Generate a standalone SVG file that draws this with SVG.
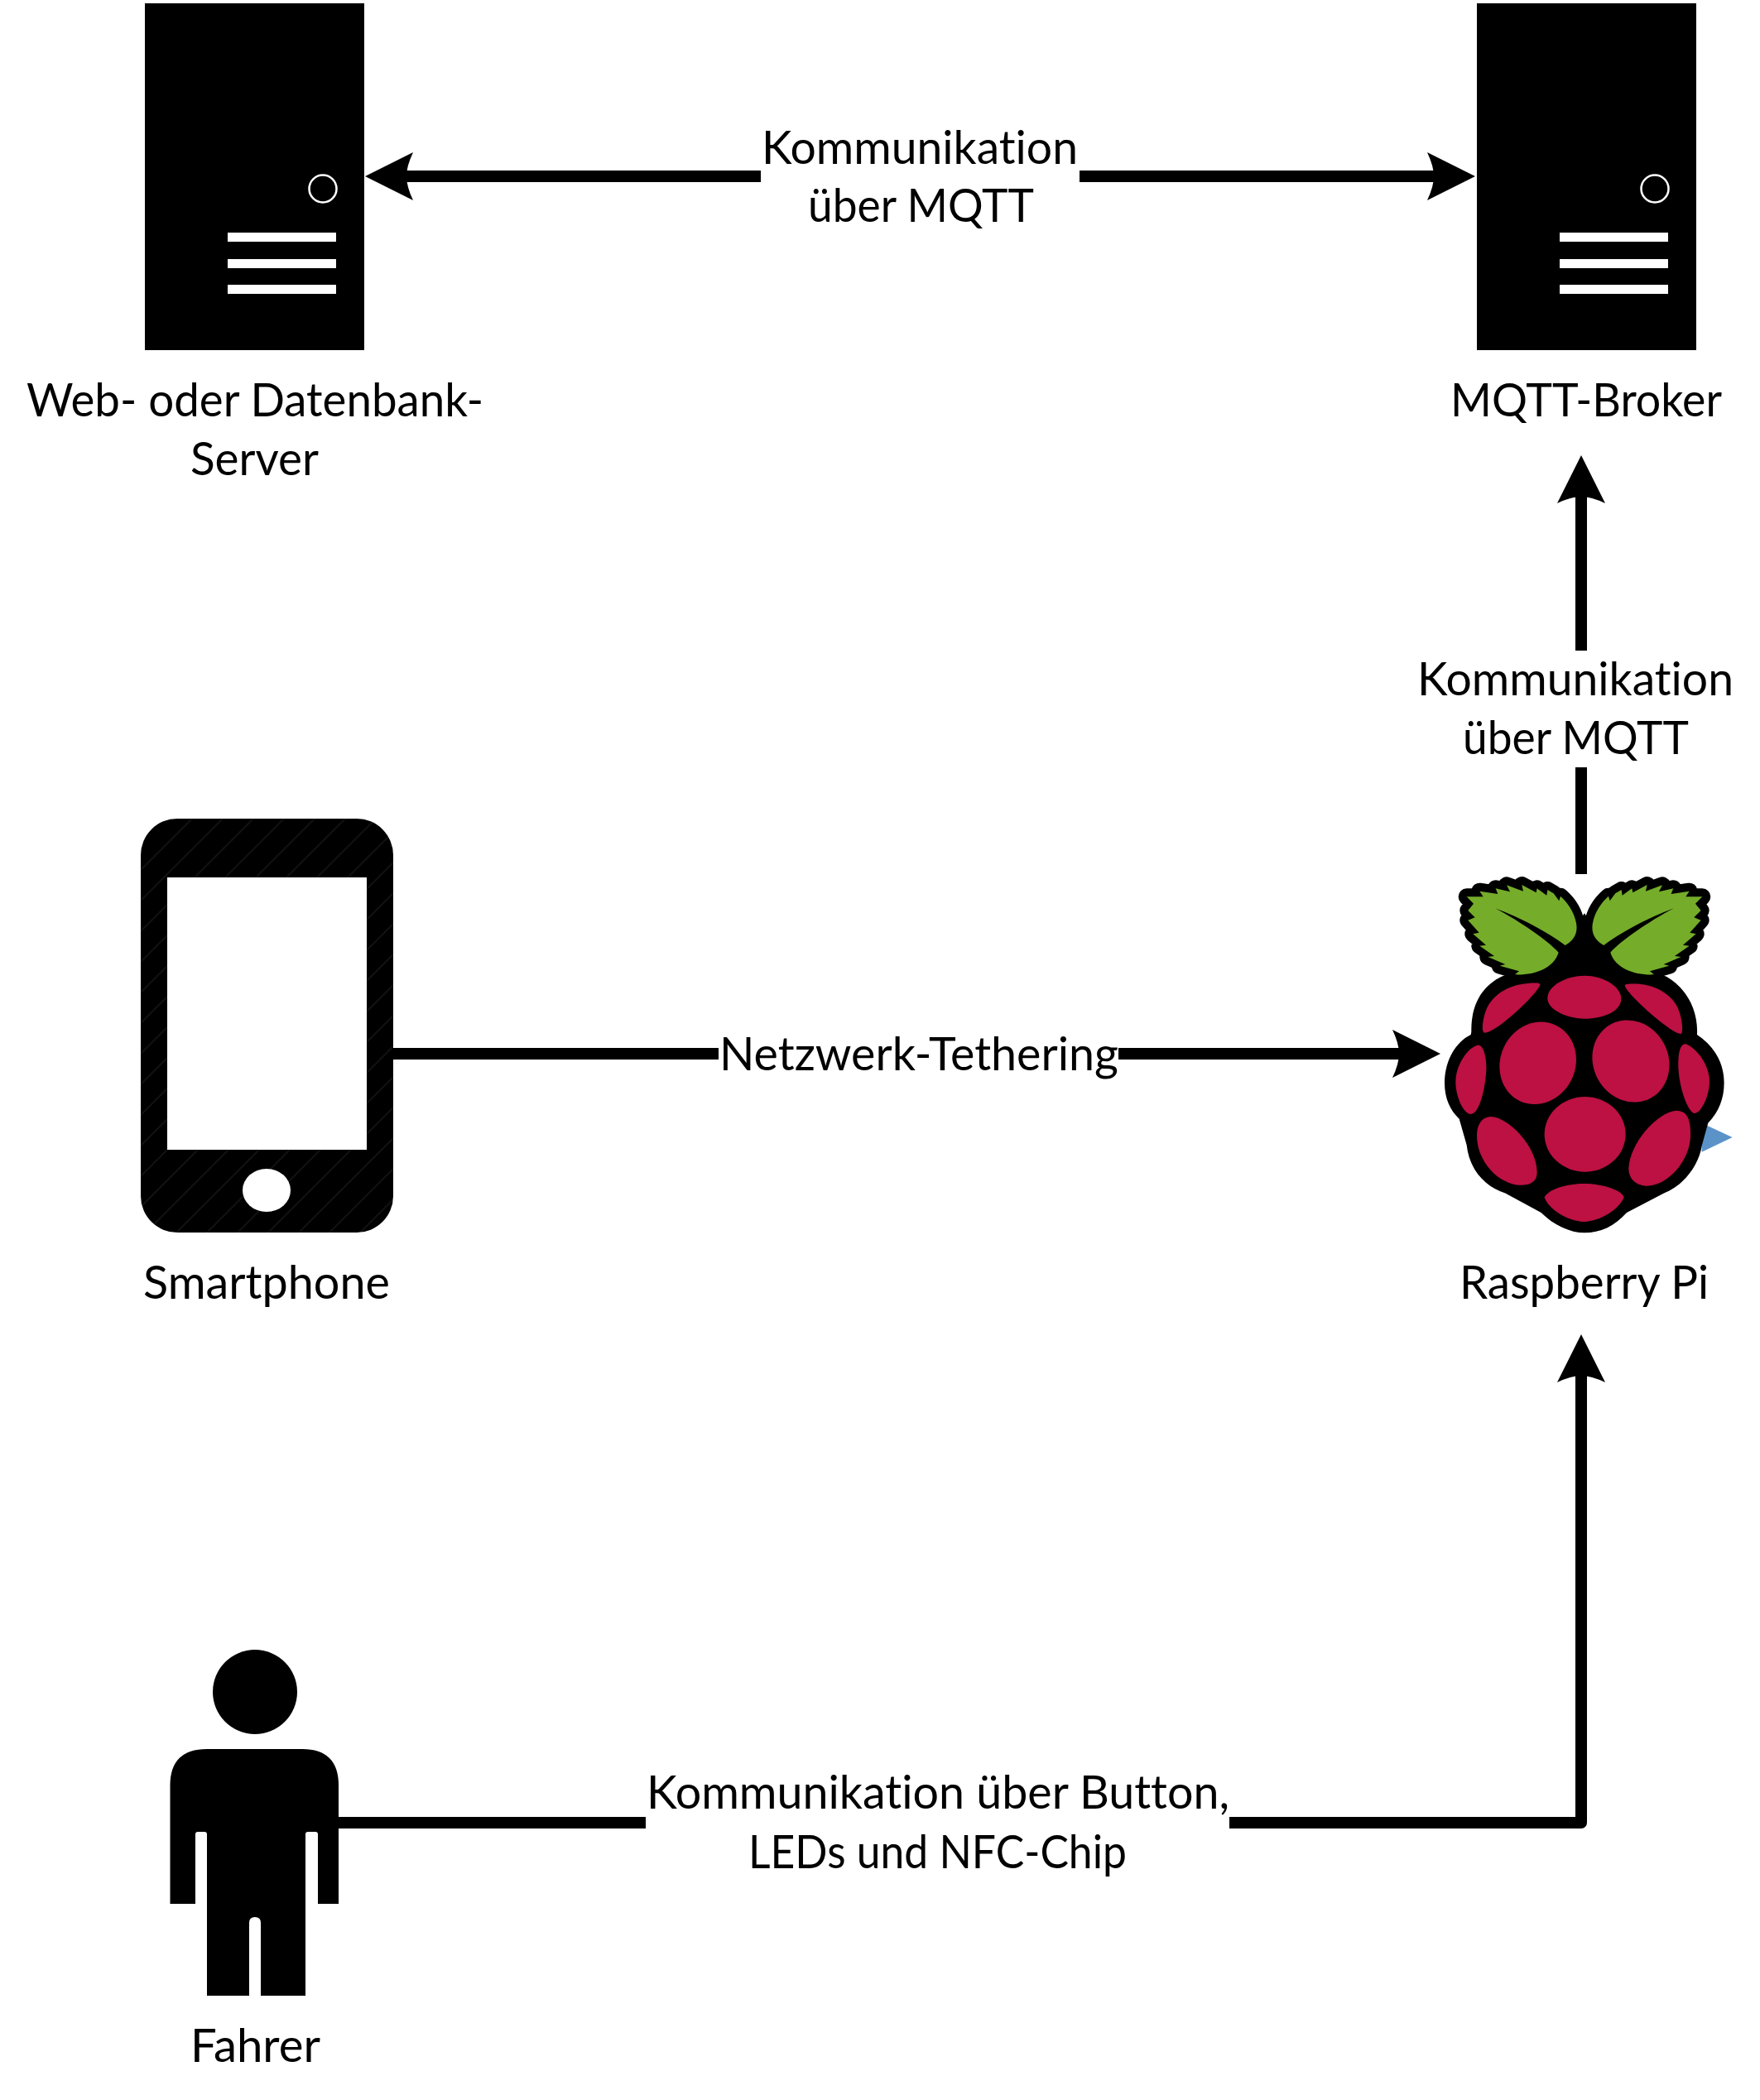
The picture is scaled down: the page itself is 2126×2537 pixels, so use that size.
<svg xmlns="http://www.w3.org/2000/svg" xmlns:xlink="http://www.w3.org/1999/xlink" width="2126" height="2537" viewBox="0 0 2126 2537">
<style>
text{font-family:"Lato","Liberation Sans",sans-serif;font-size:56px;fill:#000;font-variant-ligatures:none}
.line{stroke:#000;stroke-width:14;fill:none;stroke-linejoin:round}
.red{fill:#bc1142}
.leaf{fill:#75ac2a;stroke:#000;stroke-width:60;stroke-linejoin:round;paint-order:stroke}
</style>
<defs>
<path id="head" d="M0,0 L-58,-29 Q-50,-12 -50,0 Q-50,12 -58,29 Z" fill="#000"/>
<pattern id="hatch" width="37" height="37" patternUnits="userSpaceOnUse"><rect width="37" height="37" fill="#000"/><path d="M-5,42 L42,-5 M-5,5 L5,-5 M32,42 L42,32" stroke="#111" stroke-width="2"/></pattern>
<g id="server">
<rect x="175" y="4" width="265" height="419" fill="#000"/>
<circle cx="390" cy="228" r="16.500" fill="none" stroke="#fff" stroke-width="2.500"/>
<rect x="275" y="281" width="131" height="11" fill="#fff"/>
<rect x="275" y="313" width="131" height="11" fill="#fff"/>
<rect x="275" y="344" width="131" height="11" fill="#fff"/>
</g>
<path id="leafshape" class="leaf" d="M632,366 C660,350 680,325 672,285 C665,245 640,210 615,188 L610,205 L590,178 L568,165 L565,185 L530,160 L527,175 L475,147 L480,170 L420,148 L432,172 L380,160 L388,180 L322,170 L335,190 L275,190 L300,215 L280,240 L305,265 L280,275 L320,320 L298,325 L345,365 L322,368 L375,405 L352,408 L415,435 L395,440 L465,460 L450,472 C520,475 590,450 608,392 C570,350 470,280 378,232 C470,265 570,320 632,366 Z"/>
</defs>
<rect width="2126" height="2537" fill="#fff"/>

<g id="connectors">
<path class="line" d="M485,213 H919 M1304,213 H1738"/>
<use xlink:href="#head" href="#head" transform="translate(441,213) rotate(180)"/>
<use xlink:href="#head" href="#head" transform="translate(1782,213)"/>
<path class="line" d="M474,1273 H868 M1351,1273 H1696"/>
<use xlink:href="#head" href="#head" transform="translate(1740,1273)"/>
<path class="line" d="M1910,1056 V927 M1910,786 V594"/>
<use xlink:href="#head" href="#head" transform="translate(1910,550) rotate(-90)"/>
<path class="line" d="M409,2202 H780 M1485,2202 H1910 V1656"/>
<use xlink:href="#head" href="#head" transform="translate(1910,1612) rotate(-90)"/>
<text x="920" y="198" textLength="382" lengthAdjust="spacingAndGlyphs">Kommunikation</text>
<text x="976" y="268" textLength="273" lengthAdjust="spacingAndGlyphs">über MQTT</text>
<text x="1712" y="840" textLength="382" lengthAdjust="spacingAndGlyphs">Kommunikation</text>
<text x="1767" y="911" textLength="273" lengthAdjust="spacingAndGlyphs">über MQTT</text>
<text x="869" y="1293" textLength="482" lengthAdjust="spacingAndGlyphs">Netzwerk-Tethering</text>
<text x="781" y="2185" textLength="704" lengthAdjust="spacingAndGlyphs">Kommunikation über Button,</text>
<text x="904" y="2257" textLength="457" lengthAdjust="spacingAndGlyphs">LEDs und NFC-Chip</text>
</g>

<g id="web-server">
<use xlink:href="#server" href="#server"/>
<text x="32" y="503" textLength="552" lengthAdjust="spacingAndGlyphs">Web- oder Datenbank-</text>
<text x="230" y="574" textLength="155" lengthAdjust="spacingAndGlyphs">Server</text>
</g>

<g id="mqtt-broker">
<use xlink:href="#server" href="#server" transform="translate(1609,0)"/>
<text x="1752" y="503" textLength="328" lengthAdjust="spacingAndGlyphs">MQTT-Broker</text>
</g>

<g id="smartphone">
<rect x="170" y="989" width="305" height="500" rx="44" fill="url(#hatch)"/>
<rect x="202" y="1060" width="241" height="329" fill="#fff"/>
<ellipse cx="322" cy="1438" rx="29" ry="26" fill="#fff"/>
<text x="173" y="1569" textLength="298" lengthAdjust="spacingAndGlyphs">Smartphone</text>
</g>

<g id="raspberry-pi">
<g transform="translate(1680,1020) scale(0.3333)">
<path d="M1127,1010 L1238,1062 L1127,1115 Z" fill="#5b93c9"/>
<path d="M702,250 L600,400 L400,480 C340,510 290,570 292,680 L290,690 C230,720 195,790 195,865 C195,920 215,965 248,995 L275,1090 C285,1180 340,1240 415,1265 L545,1335 C590,1380 650,1408 702,1408 C760,1408 810,1385 855,1335 L990,1265 C1060,1235 1115,1170 1128,1090 L1150,1010 C1190,970 1208,920 1208,865 C1208,790 1170,730 1110,690 C1115,600 1070,520 1000,480 L800,400 Z" fill="#000"/>
<use xlink:href="#leafshape" href="#leafshape"/>
<use xlink:href="#leafshape" href="#leafshape" transform="translate(1404,0) scale(-1,1)"/>
<path class="red" d="M568,558 C568,510 640,476 702,476 C770,476 835,515 835,560 C835,605 770,632 702,632 C640,632 568,600 568,558Z"/>
<path class="red" d="M542,508 C530,545 380,685 340,683 C325,680 335,620 350,590 C385,525 460,500 535,503 Z"/>
<path class="red" d="M848,510 C850,540 1020,690 1052,687 C1062,680 1055,610 1030,575 C990,520 920,500 855,507Z"/>
<ellipse class="red" cx="533" cy="793" rx="136" ry="152" transform="rotate(25 533 793)"/>
<ellipse class="red" cx="870" cy="786" rx="136" ry="152" transform="rotate(-28 870 786)"/>
<ellipse class="red" cx="704" cy="1051" rx="147" ry="136"/>
<path class="red" d="M315,728 C335,725 348,770 346,820 C342,890 320,978 290,978 C260,975 235,910 235,860 C235,800 280,735 315,728Z"/>
<path class="red" d="M1070,724 C1110,740 1155,800 1155,860 C1155,910 1125,975 1100,975 C1075,970 1040,870 1042,790 C1043,750 1050,722 1070,724Z"/>
<path class="red" d="M360,987 C420,985 530,1090 530,1190 C530,1225 500,1237 465,1235 C390,1230 312,1150 312,1055 C312,1015 330,990 360,987Z"/>
<path class="red" d="M1035,965 C1075,965 1088,1000 1086,1060 C1083,1150 1000,1240 925,1238 C885,1235 862,1210 862,1175 C865,1085 965,970 1035,965Z"/>
<path class="red" d="M557,1280 C570,1250 640,1230 700,1230 C770,1230 840,1255 845,1280 C830,1320 760,1368 700,1368 C640,1368 570,1320 557,1280Z"/>
</g>
<text x="1763" y="1569" textLength="301" lengthAdjust="spacingAndGlyphs">Raspberry Pi</text>
</g>

<g id="fahrer">
<circle cx="308" cy="2044" r="51"/>
<path d="M250,2113 H365 Q409,2113 409,2157 V2300 H384 V2216 Q384,2213 381,2213 H372 Q369,2213 369,2216 V2411 H315 V2323 Q315,2316 308,2316 Q301,2316 301,2323 V2411 H250 V2216 Q250,2213 247,2213 H239 Q236,2213 236,2216 V2300 H205.500 V2157 Q205.500,2113 250,2113 Z" fill="#000"/>
<text x="230" y="2491" textLength="157" lengthAdjust="spacingAndGlyphs">Fahrer</text>
</g>
</svg>
